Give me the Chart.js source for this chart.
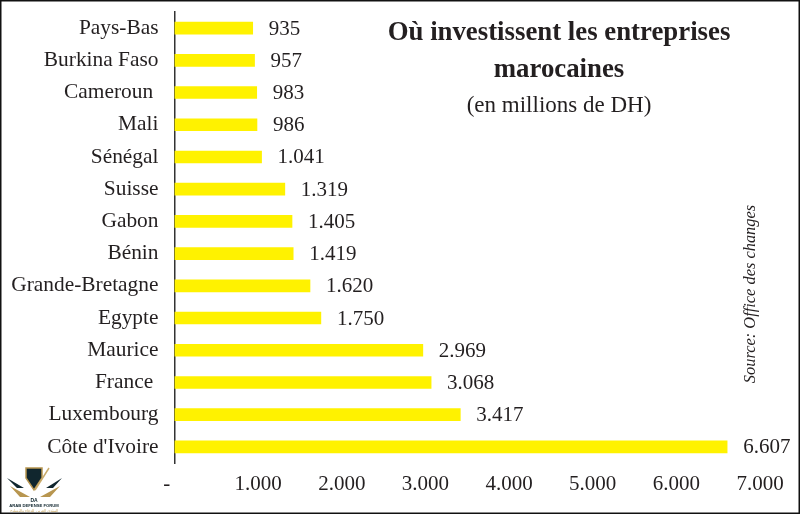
<!DOCTYPE html>
<html>
<head>
<meta charset="utf-8">
<title>Où investissent les entreprises marocaines</title>
<script src="https://cdn.jsdelivr.net/npm/chart.js@4"></script>
<style>
    html, body { margin: 0; padding: 0; background: #fff; overflow: hidden; }
    #wrap { position: relative; width: 800px; height: 514px; }
    #logo { position: absolute; left: 6px; top: 466px; }
</style>
</head>
<body>
<div id="wrap">
<canvas id="chart" width="800" height="514"></canvas>
<svg id="logo" width="60" height="46" viewBox="0 0 60 46">
    <path d="M20 2 L36 2 L36 12 L28 24 L20 12 Z" fill="#10262e" stroke="#b89650" stroke-width="1.5"/>
    <path d="M29 24 L43 2" stroke="#c9ab6a" stroke-width="1.5" fill="none"/>
    <path d="M1 12 L18 22 L11 22 Z M56 12 L40 22 L47 22 Z" fill="#10262e"/>
    <path d="M4 20 L24 31 L14 31 Z M54 20 L34 31 L44 31 Z" fill="#b89650"/>
    <text x="28" y="36" font-family="Liberation Sans" font-size="5" font-weight="bold" text-anchor="middle" fill="#10262e">DA</text>
    <text x="28" y="41" font-family="Liberation Sans" font-size="4.2" font-weight="bold" text-anchor="middle" fill="#10262e">ARAB DEFENSE FORUM</text>
    <text x="28" y="46" font-family="Noto Sans" font-size="4.2" text-anchor="middle" fill="#c9ab6a">المنتدى العربي للدفاع والتسليح</text>
</svg>
</div>
<script>
let countries = ["Pays-Bas", "Burkina Faso", "Cameroun ", "Mali", "Sénégal", "Suisse", "Gabon", "Bénin",
    "Grande-Bretagne", "Egypte", "Maurice", "France ", "Luxembourg", "Côte d'Ivoire"];
let investments = [935, 957, 983, 986, 1041, 1319, 1405, 1419, 1620, 1750, 2969, 3068, 3417, 6607];
let valueLabels = ["935", "957", "983", "986", "1.041", "1.319", "1.405", "1.419", "1.620", "1.750", "2.969", "3.068", "3.417", "6.607"];
let titleLines = ["Où investissent les entreprises", "marocaines"];
let subtitle = "(en millions de DH)";
let source = "Source: Office des changes";

const serif = '"Liberation Serif"';
const ink = '#231f20';

// white page + black frame
let framePlugin = {
    id: 'frame',
    beforeDraw(chart) {
        let ctx = chart.ctx;
        ctx.save();
        ctx.fillStyle = '#fff';
        ctx.fillRect(0, 0, chart.width, chart.height);
        ctx.strokeStyle = '#111';
        ctx.lineWidth = 1.5;
        ctx.strokeRect(0.75, 0.75, chart.width - 1.5, chart.height - 1.5);
        ctx.restore();
    }
};

// value at the end of each bar
let valuePlugin = {
    id: 'values',
    afterDatasetsDraw(chart) {
        let ctx = chart.ctx;
        let bars = chart.getDatasetMeta(0).data;
        ctx.save();
        ctx.fillStyle = ink;
        ctx.font = '21px ' + serif;
        ctx.textAlign = 'left';
        ctx.textBaseline = 'middle';
        for (let i = 0; i < bars.length; i++) {
            ctx.fillText(valueLabels[i], bars[i].x + 16, bars[i].y + 1);
        }
        ctx.restore();
    }
};

let textPlugin = {
    id: 'texts',
    afterDraw(chart) {
        let ctx = chart.ctx;
        ctx.save();
        ctx.fillStyle = ink;
        ctx.textAlign = 'center';
        ctx.textBaseline = 'middle';
        ctx.font = 'bold 26.8px ' + serif;
        ctx.fillText(titleLines[0], 559, 33);
        ctx.fillText(titleLines[1], 559, 70);
        ctx.font = '23px ' + serif;
        ctx.fillText(subtitle, 559, 106);
        ctx.translate(751, 294);
        ctx.rotate(-Math.PI / 2);
        ctx.font = 'italic 16.4px ' + serif;
        ctx.fillText(source, 0, 0);
        ctx.restore();
    }
};

new Chart(document.getElementById('chart').getContext('2d'), {
    type: 'bar',
    data: {
        labels: countries,
        datasets: [{
            data: investments,
            backgroundColor: '#fff200',
            barThickness: 12
        }]
    },
    options: {
        indexAxis: 'y',
        responsive: false,
        animation: false,
        devicePixelRatio: 1,
        layout: { autoPadding: false, padding: { top: 12, right: 40, left: 0, bottom: 0 } },
        plugins: {
            legend: { display: false },
            title: { display: false },
            tooltip: { enabled: false }
        },
        scales: {
            x: {
                min: 0,
                max: 7000,
                grid: { display: false, drawTicks: false },
                border: { display: false },
                afterFit(scale) { scale.height = 51; },
                ticks: {
                    stepSize: 1000,
                    maxRotation: 0,
                    autoSkip: false,
                    padding: 9,
                    color: ink,
                    font: { family: serif, size: 21 },
                    // zero is a dash, sitting a little left of the axis
                    callback: v => v === 0 ? '-   ' : (v / 1000) + '.000'
                }
            },
            y: {
                grid: { display: false, drawTicks: false },
                border: { display: true, color: '#333', width: 1.5 },
                afterFit(scale) {
                    scale.width = 174.5;
                    // the first label's half height would push the plot down
                    scale.paddingTop = 0;
                    scale.paddingBottom = 0;
                },
                ticks: {
                    autoSkip: false,
                    padding: 16,
                    color: ink,
                    font: { family: serif, size: 21.4 }
                }
            }
        }
    },
    plugins: [framePlugin, valuePlugin, textPlugin]
});
</script>
</body>
</html>
